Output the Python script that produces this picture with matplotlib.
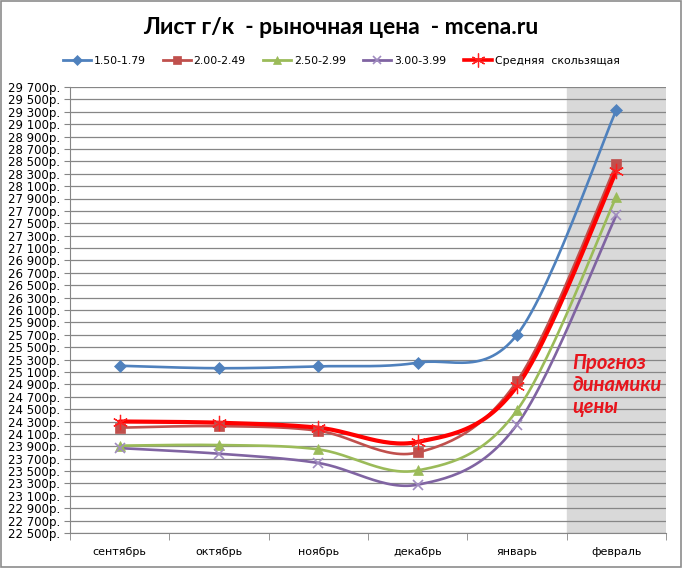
import numpy as np
import matplotlib
matplotlib.use("Agg")
import matplotlib.pyplot as plt
from matplotlib.patches import Rectangle

months = ["сентябрь", "октябрь", "ноябрь", "декабрь", "январь", "февраль"]
s_150 = [25200, 25160, 25190, 25250, 25700, 29330]
s_200 = [24200, 24225, 24150, 23800, 24950, 28450]
s_250 = [23910, 23920, 23850, 23510, 24480, 27930]
s_300 = [23870, 23780, 23630, 23280, 24250, 27630]
s_avg = [24300, 24280, 24200, 23970, 24870, 28340]
names = ["1.50-1.79", "2.00-2.49", "2.50-2.99", "3.00-3.99", "Средняя  скользящая"]


def smooth(xs, ys, n=30):
    # excel-like smoothed line: catmull-rom as cubic bezier
    p = np.column_stack([xs, ys]).astype(float)
    p = np.vstack([p[0], p, p[-1]])
    out = []
    t = np.linspace(0, 1, n)[:, None]
    for i in range(1, len(p) - 2):
        b0 = p[i]
        b1 = p[i] + (p[i + 1] - p[i - 1]) / 6
        b2 = p[i + 1] - (p[i + 2] - p[i]) / 6
        b3 = p[i + 1]
        seg = (1 - t) ** 3 * b0 + 3 * (1 - t) ** 2 * t * b1 + 3 * (1 - t) * t ** 2 * b2 + t ** 3 * b3
        out.append(seg if i == 1 else seg[1:])
    c = np.vstack(out)
    return c[:, 0], c[:, 1]


fig = plt.figure(figsize=(6.82, 5.68), dpi=100)
fig.patches.append(Rectangle((0.002, 0.002), 0.996, 0.996, transform=fig.transFigure,
                             fill=False, edgecolor="#8c8c8c", linewidth=1.2))
ax = fig.add_axes([70 / 682, 1 - 533 / 568, 596 / 682, 446 / 568])

x = np.arange(len(months))
ax.axvspan(4.5, 5.5, color="#d9d9d9", zorder=0)

# values, line colour, marker, line width, marker size, marker colour, marker edge width
series = [
    (s_150, "#4f81bd", "D", 1.9, 6, "#4f81bd", 0.5),
    (s_200, "#c0504d", "s", 1.9, 7, "#c0504d", 0.5),
    (s_250, "#9bbb59", "^", 1.9, 7, "#9bbb59", 0.5),
    (s_300, "#8064a2", "x", 1.9, 7, "#a08cc0", 1.2),
    (s_avg, "#ff0000", (6, 2, 0), 3.0, 11, "#ff2020", 0.9),
]
handles = []
for (vals, col, mk, lw, ms, mcol, mew), nm in zip(series, names):
    sx, sy = smooth(x, vals)
    ax.plot(sx, sy, color=col, linewidth=lw, zorder=3, solid_capstyle="round")
    ax.plot(x, vals, linestyle="none", marker=mk, markersize=ms, color=mcol,
            markeredgewidth=mew, markeredgecolor=mcol, zorder=4)
    h, = ax.plot([], [], color=col, linewidth=2.0 if lw < 3 else 2.6, marker=mk,
                 markersize=ms - 1, markerfacecolor=mcol, markeredgecolor=mcol,
                 markeredgewidth=mew)
    handles.append(h)

ax.set_xlim(-0.5, 5.5)
ax.set_ylim(22500, 29700)
yt = np.arange(22500, 29701, 200)
ax.set_yticks(yt)
ax.set_yticklabels([f"{v // 1000} {v % 1000:03d}р." for v in yt], fontsize=8.5,
                   family="DejaVu Sans")
ax.yaxis.grid(True, color="#868686", linewidth=0.9)
for gl in ax.yaxis.get_gridlines():
    gl.set_zorder(1)

ax.set_xticks(x)
ax.set_xticklabels(months, fontsize=8, family="DejaVu Sans")
ax.set_xticks(np.arange(-0.5, 5.6, 1), minor=True)
ax.tick_params(axis="x", which="major", length=0, pad=10)
ax.tick_params(axis="x", which="minor", length=5, color="#868686", direction="out")
ax.tick_params(axis="y", length=4, color="#868686", pad=3)
for side in ["top", "right"]:
    ax.spines[side].set_visible(False)
for side in ["left", "bottom"]:
    ax.spines[side].set_color("#868686")

ax.text(4.56, 25400, "Прогноз\nдинамики\nцены", color="#e8141c",
        fontsize=14.5, fontweight="bold", fontstyle="italic", family="Lato",
        va="top", ha="left", linespacing=1.1, zorder=5)

fig.text(0.5, 1 - 27 / 568, "Лист г/к  - рыночная цена  - mcena.ru", ha="center",
         va="center", fontsize=16.5, fontweight="bold", family="Lato")
fig.legend(handles, names, loc="center", bbox_to_anchor=(0.5, 1 - 61 / 568), ncol=5,
           frameon=False, handlelength=2.6, handletextpad=0.25,
           columnspacing=1.6, prop={"family": "DejaVu Sans", "size": 7.8})

fig.savefig("out.png", dpi=100)
